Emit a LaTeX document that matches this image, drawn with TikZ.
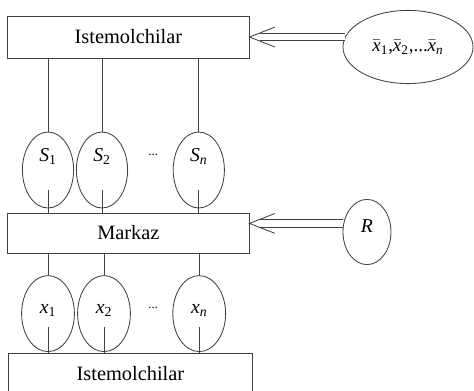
\documentclass[tikz,border=0pt]{standalone}
\usepackage{fontspec}
\setmainfont{Liberation Serif}
\usetikzlibrary{shapes.geometric}
\tikzset{
  blok/.style = {rectangle, draw=black!75, line width=0.6pt, minimum width=60.3mm, minimum height=10.5mm, font=\fontsize{14.5}{17}\selectfont},
  oval/.style = {ellipse, draw=black!75, line width=0.6pt, minimum width=12.8mm, minimum height=19mm, inner sep=0, font=\fontsize{14}{16}\selectfont},
  link/.style = {draw=black!75, line width=0.6pt},
  dbl/.style  = {draw=black!75, double, double distance=4.6pt, line width=0.6pt},
  et/.style   = {font=\small}
}
\newcommand{\ix}[2]{\textit{#1}\textsubscript{#2}}
\newcommand{\xbar}[1]{$\bar{\mbox{\textit{x}}}$\textsubscript{#1}}
\begin{document}
\begin{tikzpicture}

  \useasboundingbox (0,0) rectangle (11.85,-9.775);
  \clip (0,0) rectangle (11.85,-9.775);

  % bloklar
  \node[blok] (T) at (3.21,-0.925) {Istemolchilar};
  \node[blok, minimum height=10mm] (M) at (3.21,-5.825) {Markaz};
  \node[blok, minimum width=60.8mm] (B) at (3.26,-9.35) {Istemolchilar};

  % o'ng tomon
  \node[oval, minimum width=32.5mm, minimum height=18.3mm, font=\fontsize{13.5}{15}\selectfont] (X) at (10.2,-1.175) {\xbar{1},\xbar{2},...\xbar{\textit{n}}};
  \node[oval, minimum width=12mm, minimum height=16.3mm, text depth=0.3cm] (R) at (9.175,-5.8) {\textit{R}};
  \coordinate (a1) at (X.171 -| T.east);
  \coordinate (a2) at (R.160 -| M.east);
  \draw[dbl] (X.171) -- ([xshift=7.3pt]a1);
  \draw[link] ([xshift=18pt,yshift=7pt]a1) -- (a1) -- ([xshift=18pt,yshift=-7pt]a1);
  \draw[dbl] (R.160) -- ([xshift=7.3pt]a2);
  \draw[link] ([xshift=18pt,yshift=7pt]a2) -- (a2) -- ([xshift=18pt,yshift=-7pt]a2);

  % S qatori
  \node[oval, text height=0.3cm, text depth=0.72cm] (S1) at (1.2,-4.25) {\ix{S}{1}};
  \node[oval, text height=0.3cm, text depth=0.72cm] (S2) at (2.55,-4.25) {\ix{S}{2}};
  \node[oval, text height=0.3cm, text depth=0.72cm] (Sn) at (4.97,-4.25) {\ix{S}{\textit{n}}};
  \node[et] (dS) at (3.83,-3.88) {...};
  \draw[link] (T.south -| S1) -- (S1.north); \draw[link] ([yshift=-0.5cm]S1.center) -- (S1 |- M.north);
  \draw[link] (T.south -| S2) -- (S2.north); \draw[link] ([yshift=-0.5cm]S2.center) -- (S2 |- M.north);
  \draw[link] (T.south -| Sn) -- (Sn.north); \draw[link] ([yshift=-0.5cm]Sn.center) -- (Sn |- M.north);

  % x qatori
  \node[oval, minimum width=13.2mm, text height=0.3cm, text depth=0.3cm] (x1) at (1.2,-7.84) {\ix{x}{1}};
  \node[oval, minimum width=13.2mm, text height=0.3cm, text depth=0.3cm] (x2) at (2.6,-7.84) {\ix{x}{2}};
  \node[oval, minimum width=13.2mm, text height=0.3cm, text depth=0.3cm] (xn) at (4.98,-7.84) {\ix{x}{\textit{n}}};
  \node[et] (dx) at (3.83,-7.7) {...};
  \draw[link] (M.south -| x1) -- (x1.north); \draw[link] ([yshift=-0.34cm]x1.center) -- (x1 |- B.north);
  \draw[link] (M.south -| x2) -- (x2.north); \draw[link] ([yshift=-0.34cm]x2.center) -- (x2 |- B.north);
  \draw[link] (M.south -| xn) -- (xn.north); \draw[link] ([yshift=-0.34cm]xn.center) -- (xn |- B.north);

\end{tikzpicture}
\end{document}
